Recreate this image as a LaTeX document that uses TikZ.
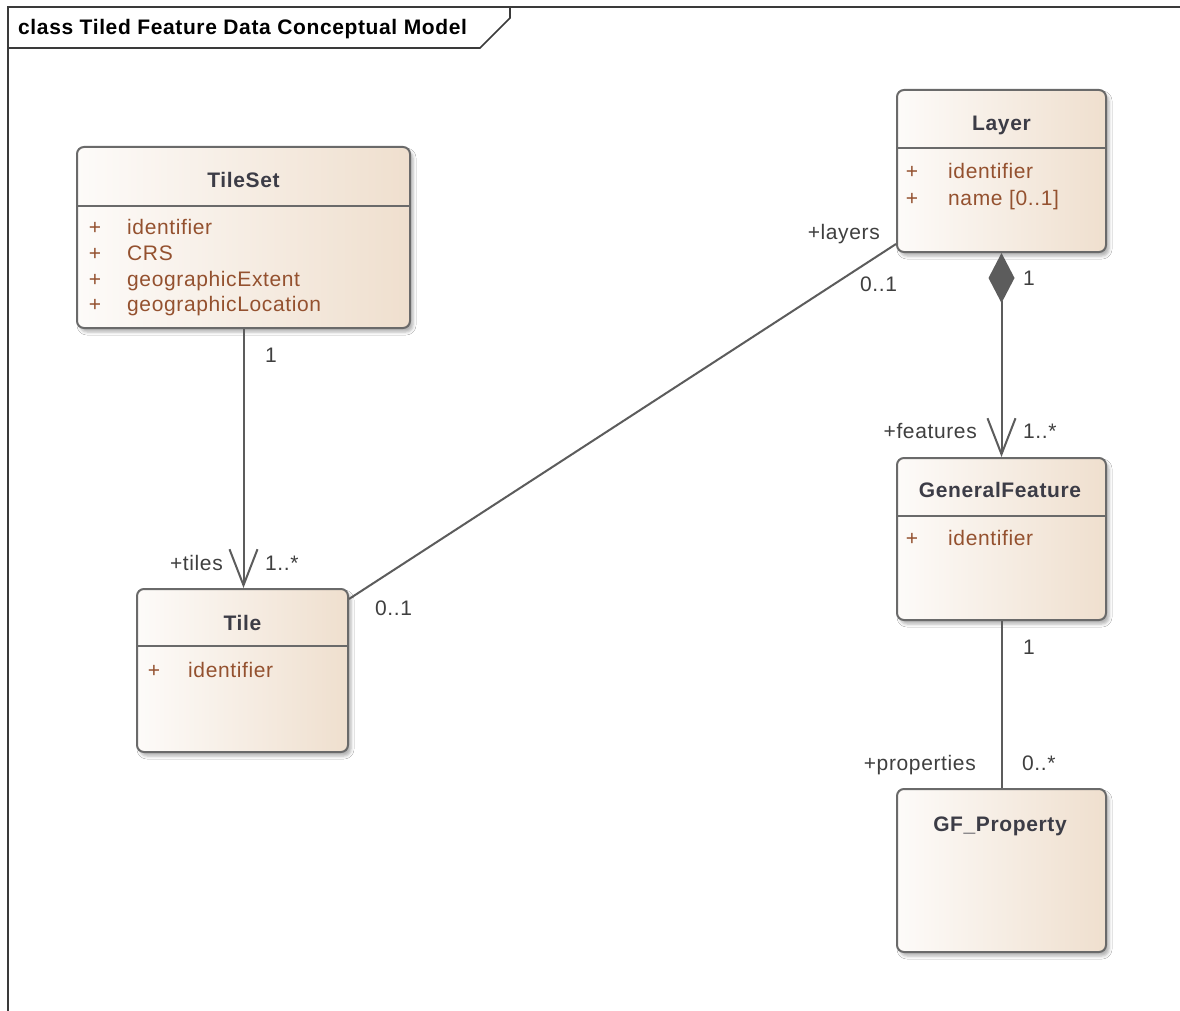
\documentclass[tikz,border=0pt]{standalone}
\usepackage{fontspec}
\setmainfont{Liberation Sans}[LetterSpace=3]
\usetikzlibrary{calc,arrows.meta,shadows.blur}

\definecolor{framegray}{HTML}{3A3A3A}
\definecolor{boxgray}{HTML}{6A6A6A}
\definecolor{linegray}{HTML}{5C5C5C}
\definecolor{namecol}{HTML}{3C3C46}
\definecolor{attrcol}{HTML}{94512F}
\definecolor{labelcol}{HTML}{3F3F3F}
\definecolor{fillleft}{HTML}{FDFBF9}
\definecolor{fillright}{HTML}{EFDFCE}

\tikzset{
  classbox/.style={draw=boxgray, line width=2pt, rounded corners=7pt,
    left color=fillleft, right color=fillright, inner sep=0pt,
    blur shadow={shadow xshift=3pt, shadow yshift=-4pt, shadow blur radius=3pt, shadow opacity=30}},
  divider/.style={draw=boxgray, line width=2pt},
  txt/.style={font=\fontsize{21}{25}\selectfont},
  classname/.style={anchor=base, inner sep=0pt, text=namecol, font=\fontsize{21}{25}\selectfont\bfseries},
  plus/.style={anchor=base, inner sep=0pt, text=attrcol, txt},
  attr/.style={anchor=base west, inner sep=0pt, text=attrcol, txt},
  rolelbl/.style={inner sep=0pt, text=labelcol, txt},
  assoc/.style={draw=linegray, line width=2pt},
  navarrow/.style={-{Straight Barb[length=36pt, width=28pt, line width=2pt]}},
  compnav/.style={{Diamond[length=50pt, width=26pt, fill=linegray]}-{Straight Barb[length=36pt, width=28pt, line width=2pt]}},
}

\begin{document}
\begin{tikzpicture}[x=1pt, y=-1pt]
\useasboundingbox (0,0) rectangle (1180,1011);
\fill[white] (0,0) rectangle (1180,1011);

% diagram frame with its name tab
\draw[framegray, line width=1.6pt] (8,1015) -- (8,7) -- (1185,7);
\draw[framegray, line width=1.6pt] (8,48) -- (480,48) -- (510,18) -- (510,7);
\node[anchor=base west, inner sep=0pt, text=black, font=\fontsize{21}{25}\selectfont\bfseries]
  (frametitle) at (18,35) {class Tiled Feature Data Conceptual Model};

% classes
\node[classbox, minimum width=333pt, minimum height=181pt] (tileset) at (243.5,237.5) {};
\node[classbox, minimum width=209pt, minimum height=162pt] (layer) at (1001.5,171) {};
\node[classbox, minimum width=211pt, minimum height=163pt] (tile) at (242.5,670.5) {};
\node[classbox, minimum width=209pt, minimum height=162pt] (feature) at (1001.5,539) {};
\node[classbox, minimum width=209pt, minimum height=163pt] (property) at (1001.5,870.5) {};

% compartment separators
\draw[divider] ([yshift=-60pt]tileset.north west) -- ([yshift=-60pt]tileset.north east);
\draw[divider] ([yshift=-59pt]layer.north west) -- ([yshift=-59pt]layer.north east);
\draw[divider] ([yshift=-58pt]tile.north west) -- ([yshift=-58pt]tile.north east);
\draw[divider] ([yshift=-59pt]feature.north west) -- ([yshift=-59pt]feature.north east);

% class names
\node[classname] (tilesetname) at (243.5,188) {TileSet};
\node[classname] (layername) at (1001.5,131) {Layer};
\node[classname] (tilename) at (242.5,630) {Tile};
\node[classname] (featurename) at (1000,497) {GeneralFeature};
\node[classname] (propertyname) at (1000,831) {GF\_Property};

% attributes
\node[plus] (ts1p) at (95,234) {+};
\node[attr] (ts1) at (127,234) {identifier};
\node[plus] (ts2p) at (95,260) {+};
\node[attr] (ts2) at (127,260) {CRS};
\node[plus] (ts3p) at (95,286) {+};
\node[attr] (ts3) at (127,286) {geographicExtent};
\node[plus] (ts4p) at (95,311) {+};
\node[attr] (ts4) at (127,311) {geographicLocation};

\node[plus] (ly1p) at (912,179) {+};
\node[attr] (ly1) at (948,179) {identifier};
\node[plus] (ly2p) at (912,205) {+};
\node[attr] (ly2) at (948,205) {name [0..1]};

\node[plus] (tl1p) at (154,677) {+};
\node[attr] (tl1) at (188,677) {identifier};

\node[plus] (gf1p) at (912,545) {+};
\node[attr] (gf1) at (948,545) {identifier};

% associations
\draw[assoc, navarrow] (tileset.south) -- (tileset.south |- tile.north);
\draw[assoc] ($(tile.north east)+(0,11)$) -- ($(layer.south west)+(0,-9)$);
\draw[assoc, compnav] (layer.south) -- (layer.south |- feature.north);
\draw[assoc] (feature.south) -- (feature.south |- property.north);

% association end labels
\node[rolelbl, anchor=base west] (l1) at (265,362) {1};
\node[rolelbl, anchor=base east] (l2) at (223,570) {+tiles};
\node[rolelbl, anchor=base west] (l3) at (265,570) {1..*};
\node[rolelbl, anchor=base west] (l4) at (375,615) {0..1};
\node[rolelbl, anchor=base east] (l5) at (880,240) {+layers};
\node[rolelbl, anchor=base west] (l6) at (860,291) {0..1};
\node[rolelbl, anchor=base west] (l7) at (1023,285) {1};
\node[rolelbl, anchor=base east] (l8) at (977,438) {+features};
\node[rolelbl, anchor=base west] (l9) at (1023,438) {1..*};
\node[rolelbl, anchor=base west] (l10) at (1023,654) {1};
\node[rolelbl, anchor=base east] (l11) at (976,770) {+properties};
\node[rolelbl, anchor=base west] (l12) at (1022,770) {0..*};
\end{tikzpicture}
\end{document}
